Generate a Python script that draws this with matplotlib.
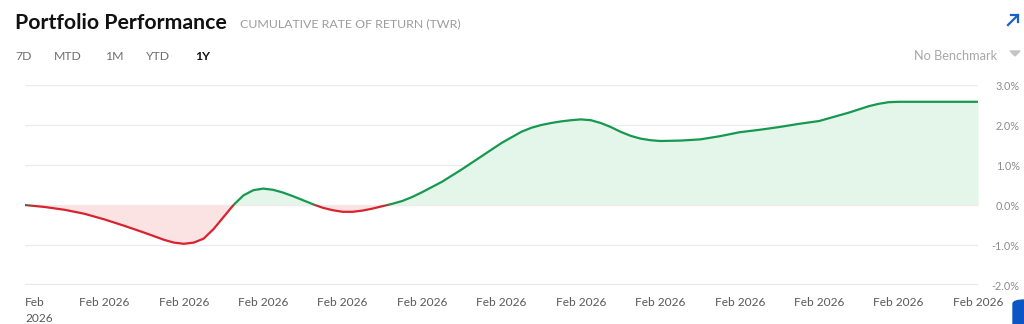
import numpy as np
import matplotlib as mpl
mpl.use('Agg')
from matplotlib import pyplot as plt
from matplotlib.patches import Rectangle, FancyBboxPatch

plt.rcParams['font.family'] = ['Lato', 'DejaVu Sans']

# ---------------- data: cumulative TWR (%) ----------------
# position along the period, in label-interval units (0 .. 12)
period_pos = [0.0, 0.25, 0.5, 0.75, 1.0, 1.25, 1.5, 1.625, 1.75, 1.875,
              2.0, 2.125, 2.25, 2.375, 2.5, 2.625, 2.75, 2.875, 3.0, 3.125,
              3.25, 3.375, 3.5, 3.625, 3.75, 3.875, 4.0, 4.125, 4.25, 4.375,
              4.5, 4.625, 4.75, 4.875, 5.0, 5.25, 5.5, 5.75, 6.0, 6.25,
              6.375, 6.5, 6.625, 6.75, 6.875, 7.0, 7.125, 7.25, 7.375, 7.5,
              7.625, 7.75, 7.875, 8.0, 8.25, 8.5, 8.75, 9.0, 9.25, 9.5,
              9.75, 10.0, 10.125, 10.25, 10.375, 10.5, 10.625, 10.75, 10.875, 11.0,
              11.5, 12.0]
returns = [0.00, -0.05, -0.12, -0.22, -0.36, -0.52, -0.69, -0.78, -0.87, -0.94,
           -0.97, -0.94, -0.84, -0.60, -0.30, 0.00, 0.24, 0.37, 0.41, 0.38,
           0.31, 0.22, 0.12, 0.02, -0.07, -0.13, -0.17, -0.17, -0.14, -0.09,
           -0.03, 0.03, 0.10, 0.20, 0.32, 0.58, 0.89, 1.22, 1.55, 1.83,
           1.93, 2.00, 2.05, 2.09, 2.12, 2.14, 2.12, 2.05, 1.95, 1.83,
           1.73, 1.66, 1.62, 1.60, 1.61, 1.64, 1.72, 1.82, 1.88, 1.95,
           2.03, 2.10, 2.17, 2.24, 2.31, 2.39, 2.47, 2.53, 2.57, 2.58,
           2.58, 2.58]
tick_pos = list(range(13))
tick_labels = ['Feb\n2026'] + ['Feb 2026'] * 12
y_ticks = [-2.0, -1.0, 0.0, 1.0, 2.0, 3.0]
periods = ['7D', 'MTD', '1M', 'YTD', '1Y']
period_x = [15, 54, 105, 146, 195]

GREEN = '#16994f'
RED = '#d8232f'
GREEN_FILL = '#e4f5ea'
RED_FILL = '#fce3e3'

W, H = 1024, 324
fig = plt.figure(figsize=(W / 100, H / 100), dpi=100)
fig.patch.set_facecolor('white')

def px(x, y):
    return x / W, 1 - y / H

# ---------------- header ----------------
fig.text(*px(15, 29), 'Portfolio Performance', fontsize=15.3, fontweight='bold',
         color='#111111', va='baseline')
fig.text(*px(240, 27), 'CUMULATIVE RATE OF RETURN (TWR)', fontsize=8.9,
         color='#9c9c9c', va='baseline')
for lab, xp in zip(periods, period_x):
    fig.text(*px(xp, 60), lab, fontsize=8.8, va='baseline',
             color='#111111' if lab == '1Y' else '#6e6e6e',
             fontweight='bold' if lab == '1Y' else 'normal')
fig.text(*px(997, 60), 'No Benchmark', fontsize=9.2, color='#a8a8a8',
         ha='right', va='baseline')
fig.patches.append(plt.Polygon([px(1010, 51), px(1020, 51), px(1015, 56)],
                               closed=True, transform=fig.transFigure,
                               color='#c4c4c4', figure=fig))
fig.add_artist(plt.Line2D([1008 / W, 1018 / W], [1 - 25 / H, 1 - 15 / H],
                          color='#1d5fc9', lw=1.6))
fig.add_artist(plt.Line2D([1011 / W, 1018 / W, 1018 / W],
                          [1 - 15 / H, 1 - 15 / H, 1 - 22 / H],
                          color='#1d5fc9', lw=1.6))
fig.patches.append(FancyBboxPatch(px(1013, 330), 30 / W, 30 / H,
                                  boxstyle='round,pad=0,rounding_size=0.012',
                                  transform=fig.transFigure, color='#0b55c4',
                                  figure=fig))

# ---------------- chart ----------------
ax = fig.add_axes([25 / W, 1 - 285 / H, (978 - 25) / W, 200 / H])
x = np.array(period_pos)
y = np.array(returns)

for v in y_ticks:
    if v == -2.0:
        ax.axhline(v, color='#e1e4ee', lw=1.3, zorder=0)
    else:
        ax.axhline(v, color='#ececf0', lw=1.0, zorder=0)

ymin, ymax = y_ticks[0], y_ticks[-1]
clip_up = Rectangle((x[0], 0), x[-1] - x[0], ymax, transform=ax.transData)
clip_dn = Rectangle((x[0], ymin), x[-1] - x[0], -ymin, transform=ax.transData)

f_up = ax.fill_between(x, y, 0, color=GREEN_FILL, lw=0, zorder=1)
f_up.set_clip_path(clip_up)
f_dn = ax.fill_between(x, y, 0, color=RED_FILL, lw=0, zorder=1)
f_dn.set_clip_path(clip_dn)

l_up, = ax.plot(x, y, color=GREEN, lw=1.6, zorder=3,
                solid_capstyle='round', solid_joinstyle='round')
l_up.set_clip_path(clip_up)
l_dn, = ax.plot(x, y, color=RED, lw=1.6, zorder=3,
                solid_capstyle='round', solid_joinstyle='round')
l_dn.set_clip_path(clip_dn)

ax.set_xlim(x[0], x[-1])
ax.set_ylim(ymin, ymax)
for s in ax.spines.values():
    s.set_visible(False)

ax.set_xticks(tick_pos)
ax.set_xticklabels(tick_labels, fontsize=8.6, color='#5a5a5a')
ax.tick_params(axis='x', length=0, pad=9)
first = ax.get_xticklabels()[0]
first.set_ha('left')
first.set_va('top')
first.set_multialignment('left')
first.set_linespacing(1.45)

ax.yaxis.tick_right()
ax.set_yticks(y_ticks)
ax.set_yticklabels(['%.1f%%' % v for v in y_ticks], fontsize=7.8, color='#8c8c8c')
for t in ax.get_yticklabels():
    t.set_ha('right')
ax.tick_params(axis='y', length=0, pad=30)

plt.savefig('out.png', dpi=100, facecolor='white')
